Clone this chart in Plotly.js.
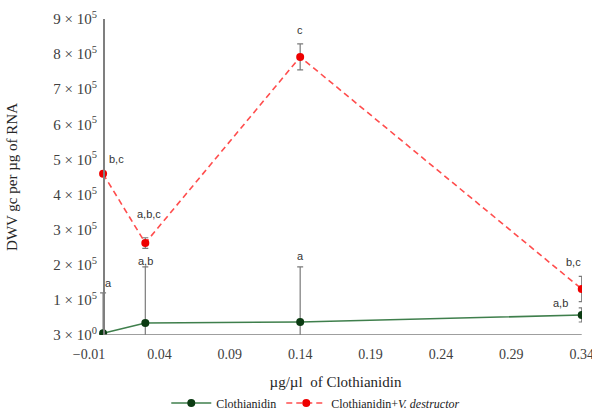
<!DOCTYPE html>
<html>
<head>
<meta charset="utf-8">
<script src="https://cdn.plot.ly/plotly-3.0.1.min.js"></script>
<style>html,body{margin:0;padding:0;background:#fff;}#chart{width:592px;height:411px;}</style>
</head>
<body>
<div id="chart"></div>
<script>
// Concentrations (µg/µl)
var xVals = [0, 0.03, 0.14, 0.34];
// Clothianidin series
var cloVals = [5000, 34000, 37000, 57000];
var cloErr = [115000, 160000, 157000, 20000];
var cloLabels = ["a", "a,b", "a", "a,b"];
// Clothianidin + V. destructor series
var vdVals = [459000, 262000, 792000, 131000];
var vdErr = [0, 15000, 37000, 36000];
var vdLabels = ["b,c", "a,b,c", "c", "b,c"];
// Axis ticks
var xTickVals = [-0.01, 0.04, 0.09, 0.14, 0.19, 0.24, 0.29, 0.34];
var xTickText = ["−0.01", "0.04", "0.09", "0.14", "0.19", "0.24", "0.29", "0.34"];
var yTickVals = [0, 100000, 200000, 300000, 400000, 500000, 600000, 700000, 800000, 900000];
var yTickText = ["3 × 10<sup>0</sup>", "1 × 10<sup>5</sup>", "2 × 10<sup>5</sup>", "3 × 10<sup>5</sup>", "4 × 10<sup>5</sup>",
                 "5 × 10<sup>5</sup>", "6 × 10<sup>5</sup>", "7 × 10<sup>5</sup>", "8 × 10<sup>5</sup>", "9 × 10<sup>5</sup>"];
var xRange = [-0.01, 0.3402];
var yRange = [0, 900000];

var serif = "Liberation Serif, Times New Roman, serif";

var traces = [
  {
    x: xVals, y: cloVals, type: "scatter", mode: "lines+markers", name: "Clothianidin",
    line: {color: "#3f7f4c", width: 1.6},
    marker: {color: "#0b3b12", size: 8},
    error_y: {type: "data", array: cloErr, visible: true, color: "#7a7a7a", thickness: 1.2, width: 3}
  },
  {
    x: xVals, y: vdVals, type: "scatter", mode: "lines+markers", name: "Clothianidin+<i>V. destructor</i>",
    line: {color: "#ff4d4d", width: 1.6, dash: "6px,4px"},
    marker: {color: "#ee0000", size: 8},
    error_y: {type: "data", array: vdErr, visible: true, color: "#7a7a7a", thickness: 1.2, width: 3}
  }
];

var cloShift = [[5, 2], [0, -2], [0, 3], [-21, -3]];
var vdShift = [[13, 7], [4, 16], [0, 6], [-8, 6]];
var annotations = [];
for (var i = 0; i < xVals.length; i++) {
  annotations.push({x: xVals[i], y: cloVals[i] + cloErr[i], xref: "x", yref: "y", text: cloLabels[i],
    showarrow: false, xshift: cloShift[i][0], yshift: cloShift[i][1], yanchor: "bottom",
    font: {family: "Liberation Sans, Arial, sans-serif", size: 11, color: "#333333"}});
  annotations.push({x: xVals[i], y: vdVals[i] + vdErr[i], xref: "x", yref: "y", text: vdLabels[i],
    showarrow: false, xshift: vdShift[i][0], yshift: vdShift[i][1], yanchor: "bottom",
    font: {family: "Liberation Sans, Arial, sans-serif", size: 11, color: "#333333"}});
}

var layout = {
  width: 592, height: 411,
  margin: {l: 89, r: 10, t: 19, b: 76, autoexpand: false},
  paper_bgcolor: "#ffffff", plot_bgcolor: "#ffffff",
  showlegend: true,
  legend: {orientation: "h", x: 0.46, xanchor: "center", y: -0.215, yanchor: "middle",
    font: {family: serif, size: 12, color: "#222222"}, itemwidth: 40, tracegroupgap: 0},
  xaxis: {
    range: xRange, tickvals: xTickVals, ticktext: xTickText, automargin: false, ticklabeloverflow: "allow",
    showgrid: false, zeroline: false, showline: false, ticks: "", ticklabelstandoff: 9,
    tickfont: {family: serif, size: 14, color: "#404040"},
    title: {text: "µg/µl  of Clothianidin", font: {family: serif, size: 15, color: "#262626"}, standoff: 15}
  },
  yaxis: {
    range: yRange, tickvals: yTickVals, ticktext: yTickText, automargin: false,
    anchor: "free", position: (xVals[0] - xRange[0]) / (xRange[1] - xRange[0]),
    showgrid: false, zeroline: false, showline: true, linecolor: "#7f7f7f", linewidth: 1.5, ticks: "",
    ticklabelstandoff: 3,
    tickfont: {family: serif, size: 15, color: "#404040"},
    title: {text: "DWV gc per µg of RNA", font: {family: serif, size: 15, color: "#262626"}, standoff: 30}
  },
  shapes: [{type: "line", xref: "x", yref: "y", x0: xVals[0], x1: xVals[xVals.length - 1], y0: yRange[0], y1: yRange[0],
    line: {color: "#7f7f7f", width: 1.5}}],
  annotations: annotations
};

Plotly.newPlot("chart", traces, layout, {displayModeBar: false, staticPlot: true});
</script>
</body>
</html>
